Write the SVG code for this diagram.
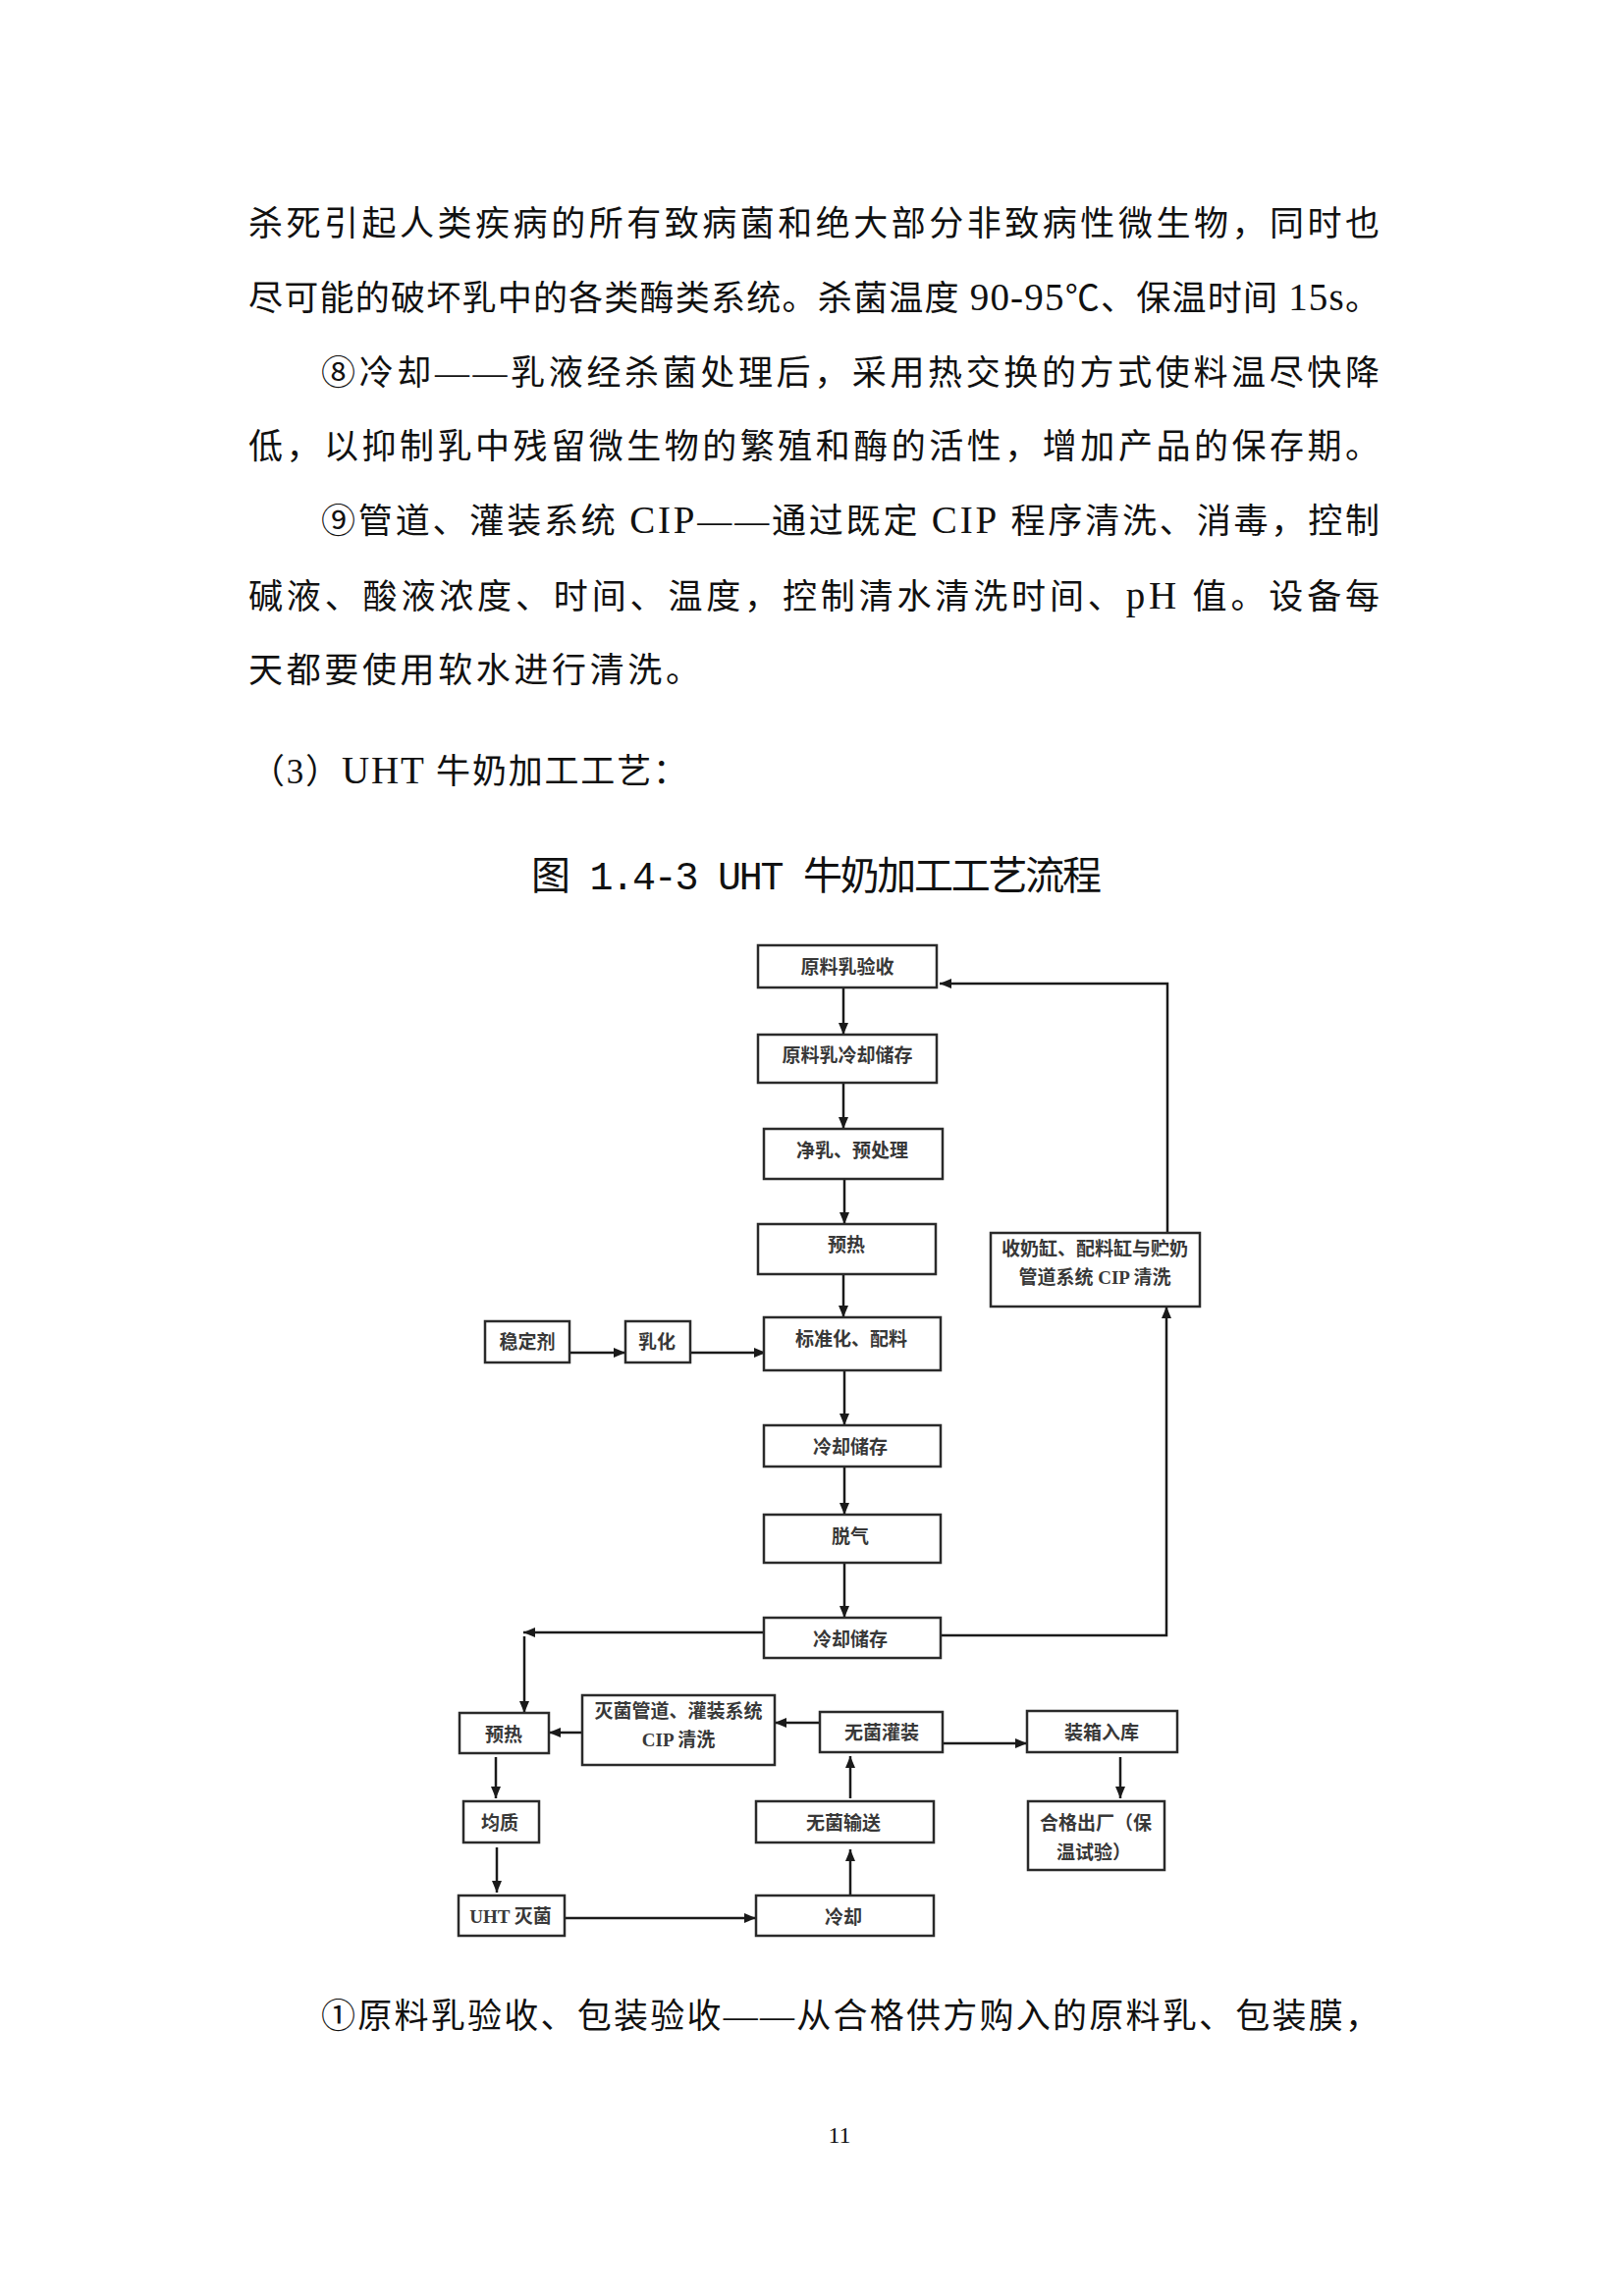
<svg xmlns="http://www.w3.org/2000/svg" width="1654" height="2339" viewBox="0 0 1654 2339">
<style>
.body{font-family:"Liberation Serif","Noto Sans CJK SC",serif;font-size:35px;fill:#111}
.lat{font-size:39px}
.title{font-family:"Liberation Mono","Noto Sans CJK SC",monospace;font-size:40px;fill:#111}
.pg{font-family:"Liberation Serif",serif;font-size:24px;fill:#111}
.box{fill:#fff;stroke:#2a2a2a;stroke-width:2.5}
.lbl{font-family:"Liberation Serif","Noto Sans CJK SC",serif;font-size:19px;font-weight:700;fill:#383838;text-anchor:middle;dominant-baseline:central}
.con{fill:none;stroke:#1a1a1a;stroke-width:2.5}
</style>
<defs>
<marker id="ah" markerUnits="userSpaceOnUse" markerWidth="12" markerHeight="10" refX="12" refY="5" orient="auto">
<path d="M0,0 L12,5 L0,10 z" fill="#1a1a1a"/>
</marker>
</defs>
<rect width="1654" height="2339" fill="#fff"/>

<g id="text-body">
<text class="body" x="253" y="240" textLength="1152" lengthAdjust="spacing">杀死引起人类疾病的所有致病菌和绝大部分非致病性微生物，同时也</text>
<text class="body" x="253" y="316" textLength="1152" lengthAdjust="spacing">尽可能的破坏乳中的各类酶类系统。杀菌温度 <tspan class="lat">90-95</tspan>℃、保温时间 <tspan class="lat">15s</tspan>。</text>
<text class="body" x="327" y="392" textLength="1078" lengthAdjust="spacing">⑧冷却——乳液经杀菌处理后，采用热交换的方式使料温尽快降</text>
<text class="body" x="253" y="467" textLength="1152" lengthAdjust="spacing">低，以抑制乳中残留微生物的繁殖和酶的活性，增加产品的保存期。</text>
<text class="body" x="327" y="543" textLength="1078" lengthAdjust="spacing">⑨管道、灌装系统 <tspan class="lat">CIP</tspan>——通过既定 <tspan class="lat">CIP</tspan> 程序清洗、消毒，控制</text>
<text class="body" x="253" y="620" textLength="1152" lengthAdjust="spacing">碱液、酸液浓度、时间、温度，控制清水清洗时间、<tspan class="lat">pH</tspan> 值。设备每</text>
<text class="body" x="253" y="695" textLength="460" lengthAdjust="spacing">天都要使用软水进行清洗。</text>
<text class="body" x="255" y="798" textLength="445" lengthAdjust="spacing">（3）<tspan class="lat">UHT</tspan> 牛奶加工工艺：</text>
<text class="title" x="541" y="906" textLength="581" lengthAdjust="spacing">图 1.4-3 UHT 牛奶加工工艺流程</text>
<text class="body" x="327" y="2066" textLength="1078" lengthAdjust="spacing">①原料乳验收、包装验收——从合格供方购入的原料乳、包装膜，</text>
<text class="pg" x="855" y="2183" text-anchor="middle">11</text>
</g>

<g id="connectors">
<path class="con" marker-end="url(#ah)" d="M859,1006 V1054"/>
<path class="con" marker-end="url(#ah)" d="M859,1103 V1150"/>
<path class="con" marker-end="url(#ah)" d="M860,1201 V1247"/>
<path class="con" marker-end="url(#ah)" d="M859,1298 V1342"/>
<path class="con" marker-end="url(#ah)" d="M580,1378 H637"/>
<path class="con" marker-end="url(#ah)" d="M703,1378 H780"/>
<path class="con" marker-end="url(#ah)" d="M860,1396 V1452"/>
<path class="con" marker-end="url(#ah)" d="M860,1494 V1543"/>
<path class="con" marker-end="url(#ah)" d="M860,1592 V1648"/>
<path class="con" marker-end="url(#ah)" d="M958,1666 H1188 V1331"/>
<path class="con" marker-end="url(#ah)" d="M1189,1256 V1002 H957"/>
<path class="con" marker-end="url(#ah)" d="M778,1663 H533"/>
<path class="con" marker-end="url(#ah)" d="M534,1667 V1745"/>
<path class="con" marker-end="url(#ah)" d="M835,1755 H789"/>
<path class="con" marker-end="url(#ah)" d="M593,1765 H559"/>
<path class="con" marker-end="url(#ah)" d="M960,1776 H1046"/>
<path class="con" marker-end="url(#ah)" d="M1141,1790 V1832"/>
<path class="con" marker-end="url(#ah)" d="M505,1790 V1832"/>
<path class="con" marker-end="url(#ah)" d="M506,1882 V1928"/>
<path class="con" marker-end="url(#ah)" d="M575,1954 H770"/>
<path class="con" marker-end="url(#ah)" d="M866,1931 V1884"/>
<path class="con" marker-end="url(#ah)" d="M866,1832 V1789"/>
</g>

<g id="n1"><rect class="box" x="772" y="963" width="182" height="43"/><text class="lbl" x="863" y="985">原料乳验收</text></g>
<g id="n2"><rect class="box" x="772" y="1054" width="182" height="49"/><text class="lbl" x="863" y="1075">原料乳冷却储存</text></g>
<g id="n3"><rect class="box" x="778" y="1150" width="182" height="51"/><text class="lbl" x="868" y="1172">净乳、预处理</text></g>
<g id="n4"><rect class="box" x="772" y="1247" width="181" height="51"/><text class="lbl" x="862" y="1268">预热</text></g>
<g id="n5"><rect class="box" x="1009" y="1256" width="213" height="75"/><text class="lbl" x="1115" y="1272">收奶缸、配料缸与贮奶</text><text class="lbl" x="1115" y="1301">管道系统 CIP 清洗</text></g>
<g id="n6"><rect class="box" x="494" y="1346" width="86" height="42"/><text class="lbl" x="537" y="1367">稳定剂</text></g>
<g id="n7"><rect class="box" x="637" y="1346" width="66" height="42"/><text class="lbl" x="669" y="1367">乳化</text></g>
<g id="n8"><rect class="box" x="778" y="1342" width="180" height="54"/><text class="lbl" x="867" y="1364">标准化、配料</text></g>
<g id="n9"><rect class="box" x="778" y="1452" width="180" height="42"/><text class="lbl" x="866" y="1474">冷却储存</text></g>
<g id="n10"><rect class="box" x="778" y="1543" width="180" height="49"/><text class="lbl" x="866" y="1565">脱气</text></g>
<g id="n11"><rect class="box" x="778" y="1648" width="180" height="41"/><text class="lbl" x="866" y="1670">冷却储存</text></g>
<g id="n12"><rect class="box" x="468" y="1745" width="91" height="41"/><text class="lbl" x="513" y="1767">预热</text></g>
<g id="n13"><rect class="box" x="593" y="1727" width="196" height="71"/><text class="lbl" x="691" y="1743">灭菌管道、灌装系统</text><text class="lbl" x="691" y="1772">CIP 清洗</text></g>
<g id="n14"><rect class="box" x="835" y="1744" width="125" height="41"/><text class="lbl" x="898" y="1765">无菌灌装</text></g>
<g id="n15"><rect class="box" x="1046" y="1743" width="153" height="42"/><text class="lbl" x="1122" y="1765">装箱入库</text></g>
<g id="n16"><rect class="box" x="472" y="1835" width="77" height="42"/><text class="lbl" x="509" y="1857">均质</text></g>
<g id="n17"><rect class="box" x="770" y="1835" width="181" height="42"/><text class="lbl" x="859" y="1857">无菌输送</text></g>
<g id="n18"><rect class="box" x="1047" y="1835" width="139" height="70"/><text class="lbl" x="1116" y="1857">合格出厂（保</text><text class="lbl" x="1114" y="1887">温试验）</text></g>
<g id="n19"><rect class="box" x="467" y="1931" width="108" height="41"/><text class="lbl" x="520" y="1952">UHT 灭菌</text></g>
<g id="n20"><rect class="box" x="770" y="1931" width="181" height="41"/><text class="lbl" x="859" y="1953">冷却</text></g>
</svg>
